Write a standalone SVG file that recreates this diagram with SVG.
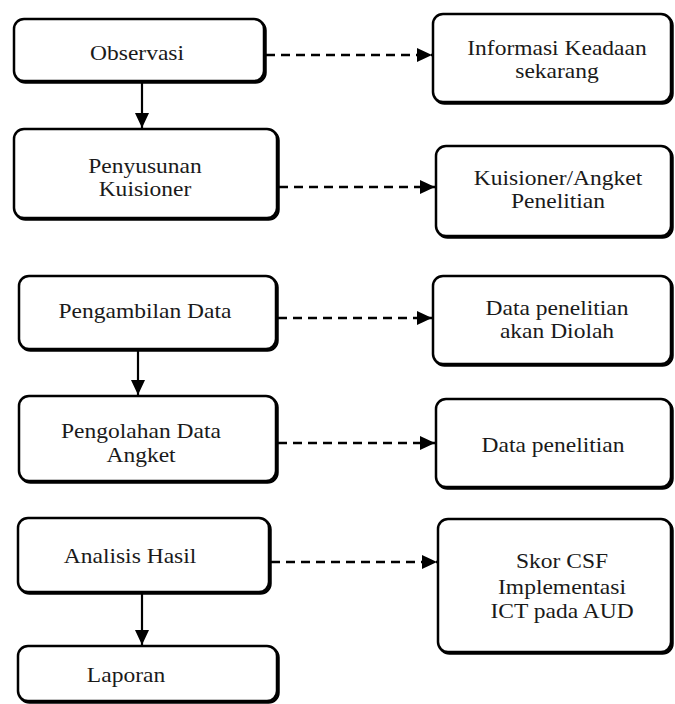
<svg xmlns="http://www.w3.org/2000/svg" width="675" height="704" viewBox="0 0 675 704">
<style>
.sh{fill:none;stroke:#000;stroke-width:2.5}
.bx{fill:#fff;stroke:#000;stroke-width:2.5}
text{font-family:'Liberation Serif','DejaVu Serif',serif;font-size:21px;fill:#1a1a1a;text-anchor:middle}
.solid{stroke:#000;stroke-width:2.2;fill:none}
.dash{stroke:#000;stroke-width:2.5;fill:none;stroke-dasharray:9 6}
</style>
<defs>
<marker id="ah" markerWidth="15" markerHeight="14" refX="15" refY="7" orient="auto" markerUnits="userSpaceOnUse">
<path d="M0,0 L15,7 L0,14 Z" fill="#000"/>
</marker>
</defs>
<rect width="675" height="704" fill="#fff"/>
<g id="connectors">
<line class="solid" x1="142" y1="82" x2="142" y2="128" marker-end="url(#ah)"/>
<line class="solid" x1="138" y1="350" x2="138" y2="395" marker-end="url(#ah)"/>
<line class="solid" x1="142" y1="593" x2="142" y2="645" marker-end="url(#ah)"/>
<line class="dash" x1="266" y1="55" x2="432" y2="55" marker-end="url(#ah)"/>
<line class="dash" x1="279" y1="187" x2="435" y2="187" marker-end="url(#ah)"/>
<line class="dash" x1="278" y1="318" x2="432" y2="318" marker-end="url(#ah)"/>
<line class="dash" x1="278" y1="443" x2="435" y2="443" marker-end="url(#ah)"/>
<line class="dash" x1="271" y1="562" x2="437" y2="562" marker-end="url(#ah)"/>
</g>
<g id="observasi">
<rect class="sh" x="15.5" y="20.5" width="250" height="62" rx="10"/>
<rect class="bx" x="14" y="19" width="250" height="62" rx="10"/>
<text transform="translate(137 60) scale(1.12 1)">Observasi</text>
</g>
<g id="penyusunan">
<rect class="sh" x="15.5" y="130.5" width="263" height="89" rx="10"/>
<rect class="bx" x="14" y="129" width="263" height="89" rx="10"/>
<text transform="translate(145 173) scale(1.12 1)">Penyusunan</text>
<text transform="translate(145 196) scale(1.12 1)">Kuisioner</text>
</g>
<g id="pengambilan">
<rect class="sh" x="20.5" y="277.5" width="257" height="73" rx="10"/>
<rect class="bx" x="19" y="276" width="257" height="73" rx="10"/>
<text transform="translate(145 318) scale(1.12 1)">Pengambilan Data</text>
</g>
<g id="pengolahan">
<rect class="sh" x="20.5" y="397.5" width="257" height="85" rx="10"/>
<rect class="bx" x="19" y="396" width="257" height="85" rx="10"/>
<text transform="translate(141 438) scale(1.12 1)">Pengolahan Data</text>
<text transform="translate(141 462) scale(1.12 1)">Angket</text>
</g>
<g id="analisis">
<rect class="sh" x="19.5" y="519.5" width="251" height="74" rx="10"/>
<rect class="bx" x="18" y="518" width="251" height="74" rx="10"/>
<text transform="translate(130 563) scale(1.12 1)">Analisis Hasil</text>
</g>
<g id="laporan">
<rect class="sh" x="19.5" y="647.5" width="259" height="55" rx="10"/>
<rect class="bx" x="18" y="646" width="259" height="55" rx="10"/>
<text transform="translate(126 682) scale(1.12 1)">Laporan</text>
</g>
<g id="informasi">
<rect class="sh" x="434.5" y="15.5" width="238" height="88" rx="10"/>
<rect class="bx" x="433" y="14" width="238" height="88" rx="10"/>
<text transform="translate(557 55) scale(1.12 1)">Informasi Keadaan</text>
<text transform="translate(557 78) scale(1.12 1)">sekarang</text>
</g>
<g id="kuisioner">
<rect class="sh" x="437.5" y="147.5" width="235" height="90" rx="10"/>
<rect class="bx" x="436" y="146" width="235" height="90" rx="10"/>
<text transform="translate(558 185) scale(1.12 1)">Kuisioner/Angket</text>
<text transform="translate(558 208) scale(1.12 1)">Penelitian</text>
</g>
<g id="data-diolah">
<rect class="sh" x="434.5" y="277.5" width="238" height="88" rx="10"/>
<rect class="bx" x="433" y="276" width="238" height="88" rx="10"/>
<text transform="translate(557 315) scale(1.12 1)">Data penelitian</text>
<text transform="translate(557 338) scale(1.12 1)">akan Diolah</text>
</g>
<g id="data-penelitian">
<rect class="sh" x="437.5" y="400.5" width="235" height="88" rx="10"/>
<rect class="bx" x="436" y="399" width="235" height="88" rx="10"/>
<text transform="translate(553 452) scale(1.12 1)">Data penelitian</text>
</g>
<g id="skor">
<rect class="sh" x="439.5" y="520.5" width="233" height="133" rx="10"/>
<rect class="bx" x="438" y="519" width="233" height="133" rx="10"/>
<text transform="translate(562 568) scale(1.12 1)">Skor CSF</text>
<text transform="translate(562 594) scale(1.12 1)">Implementasi</text>
<text transform="translate(562 618) scale(1.12 1)">ICT pada AUD</text>
</g>
</svg>
